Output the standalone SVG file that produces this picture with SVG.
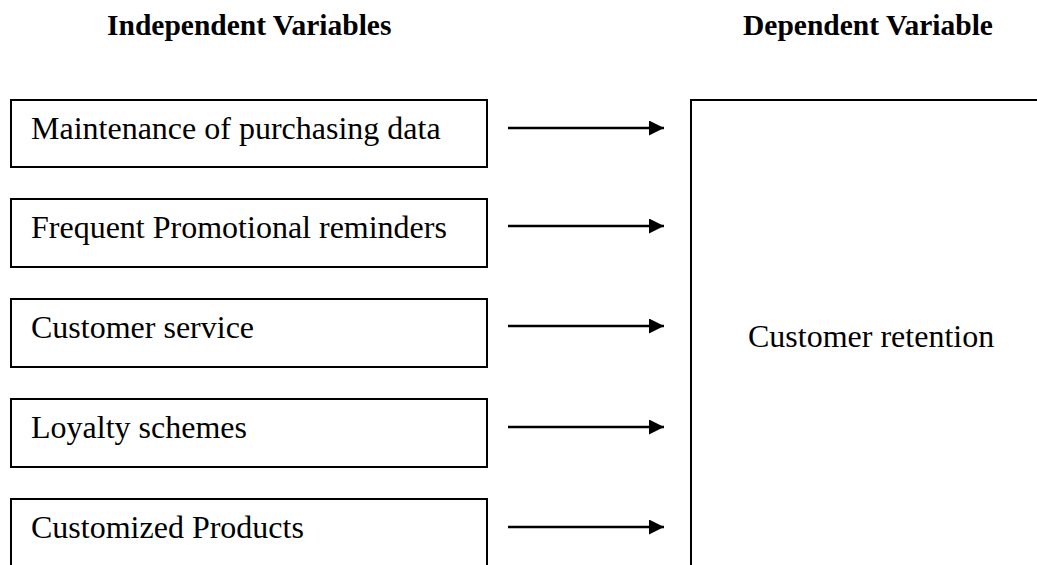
<svg xmlns="http://www.w3.org/2000/svg" width="1037" height="565" viewBox="0 0 1037 565">
<defs>
<style>
.box{fill:#fff;stroke:#000;stroke-width:2}
.lbl{font-family:"Liberation Serif","Times New Roman",serif;font-size:32px;fill:#000}
.hdr{font-family:"Liberation Serif","Times New Roman",serif;font-size:29.5px;font-weight:bold;fill:#000}
.conn{stroke:#000;stroke-width:2.5;fill:none;marker-end:url(#arr)}
</style>
<marker id="arr" markerUnits="userSpaceOnUse" markerWidth="16" markerHeight="16" refX="15" refY="7.5" orient="auto">
<polygon points="0,0 15,7.5 0,15" fill="#000"/>
</marker>
</defs>
<rect width="1037" height="565" fill="#fff"/>
<g id="headers">
<text class="hdr" x="107" y="35">Independent Variables</text>
<text class="hdr" x="743" y="35">Dependent Variable</text>
</g>
<g id="node1"><rect class="box" x="11" y="100" width="476" height="67"/><text class="lbl" x="31" y="139">Maintenance of purchasing data</text></g>
<g id="node2"><rect class="box" x="11" y="199" width="476" height="68"/><text class="lbl" x="31" y="238">Frequent Promotional reminders</text></g>
<g id="node3"><rect class="box" x="11" y="299" width="476" height="68"/><text class="lbl" x="31" y="338">Customer service</text></g>
<g id="node4"><rect class="box" x="11" y="399" width="476" height="68"/><text class="lbl" x="31" y="438">Loyalty schemes</text></g>
<g id="node5"><rect class="box" x="11" y="499" width="476" height="100"/><text class="lbl" x="31" y="538">Customized Products</text></g>
<g id="target"><rect class="box" x="691" y="100" width="400" height="500"/><text class="lbl" x="748" y="347">Customer retention</text></g>
<g id="connectors">
<line class="conn" x1="508" y1="128" x2="664" y2="128"/>
<line class="conn" x1="508" y1="226" x2="664" y2="226"/>
<line class="conn" x1="508" y1="326" x2="664" y2="326"/>
<line class="conn" x1="508" y1="427" x2="664" y2="427"/>
<line class="conn" x1="508" y1="527" x2="664" y2="527"/>
</g>
</svg>
